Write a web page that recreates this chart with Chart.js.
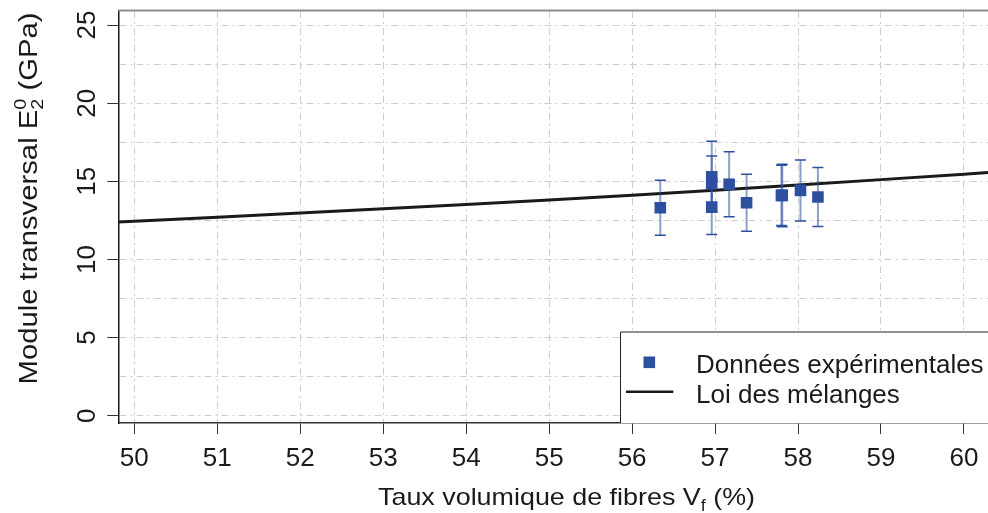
<!DOCTYPE html>
<html>
<head>
<meta charset="utf-8">
<script src="https://cdn.jsdelivr.net/npm/chart.js@4.4.1/dist/chart.umd.min.js"></script>
<style>
html,body{margin:0;padding:0;background:#ffffff;}
#wrap{width:988px;height:513px;position:relative;}
canvas{display:block;}
</style>
</head>
<body>
<div id="wrap"><canvas id="c" width="988" height="513"></canvas></div>
<script>
// ---- data ----
const vfExp  = [56.34, 56.96, 56.96, 56.96, 57.17, 57.38, 57.81, 57.80, 58.03, 58.24];
const e2Exp  = [13.31, 15.29, 14.85, 13.35, 14.81, 13.63, 14.10, 14.10, 14.42, 14.00];
const e2Err  = [1.76, 2.27, 1.77, 1.75, 2.08, 1.83, 2.00, 1.93, 1.95, 1.89];
const vfLaw  = [49.8, 50, 51, 52, 53, 54, 55, 56, 57, 58, 59, 60, 60.3];
const e2Law  = [12.39, 12.44, 12.70, 12.97, 13.24, 13.52, 13.81, 14.11, 14.43, 14.76, 15.11, 15.46, 15.57];
const xTicks = [50, 51, 52, 53, 54, 55, 56, 57, 58, 59, 60];
const yTicks = [0, 5, 10, 15, 20, 25];
const yGrid  = [0, 2.5, 5, 7.5, 10, 12.5, 15, 17.5, 20, 22.5, 25];
const labelExp = 'Données expérimentales';
const labelLaw = 'Loi des mélanges';

const FONT = "'Liberation Sans', Arial, Helvetica, sans-serif";
const BLUE = '#2d4f9f';
const GRID = '#cdcdcd';
const DASH = [7, 4, 2, 4];

function drawSegments(ctx, segs, baseSize, stretch) {
  let total = 0;
  const widths = segs.map(s => {
    if (s.stack) {
      ctx.font = s.size + 'px ' + FONT;
      const w = Math.max(...s.stack.map(p => ctx.measureText(p.t).width));
      total += w; return w;
    }
    ctx.font = (s.size || baseSize) + 'px ' + FONT;
    const w = ctx.measureText(s.t).width;
    total += w; return w;
  });
  ctx.scale(stretch, 1);
  let x = -total / 2;
  segs.forEach((s, i) => {
    if (s.stack) {
      ctx.font = s.size + 'px ' + FONT;
      s.stack.forEach(p => ctx.fillText(p.t, x, p.dy));
    } else {
      ctx.font = (s.size || baseSize) + 'px ' + FONT;
      ctx.fillText(s.t, x, s.dy || 0);
    }
    x += widths[i];
  });
}

const decor = {
  id: 'decor',
  beforeDatasetDraw(chart, args) {
    if (args.index !== 1) return;
    const ctx = chart.ctx;
    const xs = chart.scales.x, ys = chart.scales.y;
    ctx.save();
    ctx.beginPath();
    ctx.rect(chart.chartArea.left, chart.chartArea.top, chart.chartArea.right - chart.chartArea.left, chart.chartArea.bottom - chart.chartArea.top);
    ctx.clip();
    for (let i = 0; i < vfExp.length; i++) {
      const px = xs.getPixelForValue(vfExp[i]);
      const pTop = ys.getPixelForValue(e2Exp[i] + e2Err[i]);
      const pBot = ys.getPixelForValue(e2Exp[i] - e2Err[i]);
      ctx.strokeStyle = 'rgba(45,79,159,0.55)';
      ctx.lineWidth = 2;
      ctx.beginPath(); ctx.moveTo(px, pTop); ctx.lineTo(px, pBot); ctx.stroke();
      ctx.strokeStyle = BLUE;
      ctx.lineWidth = 1.5;
      ctx.beginPath();
      ctx.moveTo(px - 5.5, pTop); ctx.lineTo(px + 5.5, pTop);
      ctx.moveTo(px - 5.5, pBot); ctx.lineTo(px + 5.5, pBot);
      ctx.stroke();
    }
    ctx.restore();
  },
  afterDraw(chart) {
    const ctx = chart.ctx;
    const ca = chart.chartArea;
    const ys = chart.scales.y;
    ctx.save();
    // top frame line
    ctx.strokeStyle = '#8c8c8c';
    ctx.lineWidth = 2;
    ctx.beginPath(); ctx.moveTo(ca.left, ca.top - 0.5); ctx.lineTo(ca.right, ca.top - 0.5); ctx.stroke();

    // rotated y tick labels
    ctx.fillStyle = '#1a1a1a';
    ctx.font = '26px ' + FONT;
    ctx.textAlign = 'center';
    ctx.textBaseline = 'alphabetic';
    yTicks.forEach(v => {
      const py = ys.getPixelForValue(v);
      ctx.save();
      ctx.translate(ca.left - 23.5, py);
      ctx.rotate(-Math.PI / 2);
      ctx.fillText(String(v), 0, 0);
      ctx.restore();
    });

    // axis titles
    ctx.textAlign = 'left';
    ctx.save();
    ctx.translate(566.5, 505);
    drawSegments(ctx, [
      { t: 'Taux volumique de fibres V' },
      { t: 'f', size: 16, dy: 6 },
      { t: ' (%)' }
    ], 24, 1.12);
    ctx.restore();

    ctx.save();
    ctx.translate(37, 198.5);
    ctx.rotate(-Math.PI / 2);
    drawSegments(ctx, [
      { t: 'Module transversal E' },
      { stack: [{ t: '0', dy: -11 }, { t: '2', dy: 6 }], size: 17 },
      { t: ' (GPa)' }
    ], 25, 1.17);
    ctx.restore();

    // legend
    const lx = 620, ly = 331.5, lb = ca.bottom;
    ctx.fillStyle = '#ffffff';
    ctx.fillRect(lx, ly, 988 - lx + 10, lb - ly);
    ctx.strokeStyle = '#222222';
    ctx.lineWidth = 1;
    ctx.beginPath();
    ctx.moveTo(lx + 0.5, lb); ctx.lineTo(lx + 0.5, ly + 0.5); ctx.lineTo(1000, ly + 0.5);
    ctx.stroke();
    ctx.fillStyle = BLUE;
    ctx.fillRect(649.3 - 5.8, 362.3 - 5.8, 11.6, 11.6);
    ctx.strokeStyle = '#1a1a1a';
    ctx.lineWidth = 2.6;
    ctx.beginPath(); ctx.moveTo(626, 391.7); ctx.lineTo(673.3, 391.7); ctx.stroke();
    ctx.fillStyle = '#1a1a1a';
    ctx.font = '26px ' + FONT;
    ctx.textAlign = 'left';
    ctx.fillText(labelExp, 696, 373);
    ctx.fillText(labelLaw, 696, 402.7);
    ctx.restore();
  }
};

const ctx = document.getElementById('c').getContext('2d');
new Chart(ctx, {
  type: 'scatter',
  data: {
    datasets: [
      {
        type: 'line',
        label: labelLaw,
        data: vfLaw.map((v, i) => ({ x: v, y: e2Law[i] })),
        borderColor: '#1a1a1a',
        borderWidth: 3,
        pointRadius: 0,
        tension: 0,
        fill: false,
        order: 2
      },
      {
        type: 'scatter',
        label: labelExp,
        data: vfExp.map((v, i) => ({ x: v, y: e2Exp[i] })),
        backgroundColor: BLUE,
        borderWidth: 0,
        pointStyle: 'rect',
        pointRadius: 8.2,
        order: 1
      }
    ]
  },
  options: {
    responsive: false,
    devicePixelRatio: 1,
    animation: false,
    layout: { autoPadding: false, padding: { left: 107.3, top: 11, right: 0, bottom: 28.7 } },
    plugins: { legend: { display: false }, tooltip: { enabled: false } },
    scales: {
      x: {
        type: 'linear',
        min: 49.807,
        max: 60.29,
        afterBuildTicks: s => { s.ticks = xTicks.map(v => ({ value: v })); },
        grid: { color: GRID, lineWidth: 1, tickColor: '#333333', tickLength: 11, tickWidth: 1 },
        border: { color: '#333333', width: 1.5, dash: DASH },
        ticks: { font: { family: FONT, size: 26 }, color: '#1a1a1a', padding: 9.5, maxRotation: 0, callback: v => String(v) }
      },
      y: {
        type: 'linear',
        min: -0.47,
        max: 25.9,
        afterBuildTicks: s => { s.ticks = yGrid.map(v => ({ value: v })); },
        grid: {
          color: GRID, lineWidth: 1, tickLength: 11, tickWidth: 1,
          tickColor: c => (c.tick && yTicks.includes(c.tick.value)) ? '#333333' : 'rgba(0,0,0,0)'
        },
        border: { color: '#1a1a1a', width: 1.5, dash: DASH },
        ticks: { display: false }
      }
    }
  },
  plugins: [decor]
});
</script>
</body>
</html>
